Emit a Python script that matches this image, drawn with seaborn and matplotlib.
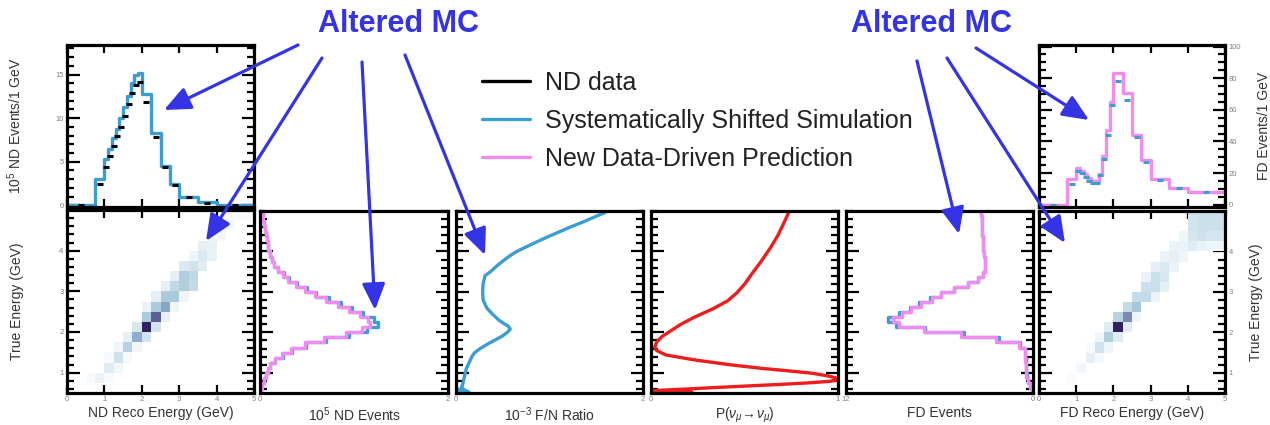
import matplotlib
matplotlib.use("Agg")
import matplotlib.pyplot as plt
from matplotlib.colors import LinearSegmentedColormap
from matplotlib.patches import FancyArrowPatch
from matplotlib.lines import Line2D
from matplotlib.ticker import FixedLocator, MultipleLocator, NullLocator
import seaborn as sns

# ---------------------------------------------------------------- data
# Reconstructed-energy binning of the 1D spectra (GeV)
reco_edges = [0.0, 0.75, 1.0, 1.1, 1.2, 1.3, 1.4, 1.5, 1.6, 1.7, 1.8, 1.9, 2.0,
              2.25, 2.5, 2.75, 3.0, 3.5, 4.0, 5.0]
nd_reco_sim = [0.0, 3.0, 5.3, 6.5, 7.7, 8.8, 10.0, 11.3, 12.6, 14.0, 14.9, 15.2,
               12.8, 8.3, 4.5, 2.4, 1.0, 0.35, 0.05]
nd_reco_data = [0.0, 2.4, 4.4, 5.6, 6.8, 7.9, 9.0, 10.3, 11.6, 12.9, 13.8, 14.1,
                11.8, 7.8, 4.4, 2.3, 0.95, 0.3, 0.05]
fd_reco_pred = [0.0, 16.5, 23.2, 21.5, 19.5, 17.0, 14.7, 14.7, 19.3, 30.5, 47.0, 65.0,
                83.0, 70.5, 44.0, 28.5, 16.0, 10.5, 8.0]
fd_reco_sim = [0.0, 13.3, 21.5, 20.0, 17.5, 15.0, 14.0, 14.0, 18.5, 29.0, 44.0, 63.0,
               78.0, 66.5, 43.0, 27.0, 15.5, 10.5, 8.0]

# True-energy binning of the rotated spectra (GeV)
true_edges = [0.5, 0.625, 0.75, 0.875, 1.0, 1.125, 1.25, 1.375, 1.5, 1.625, 1.75,
              1.875, 2.0, 2.125, 2.25, 2.375, 2.5, 2.625, 2.75, 2.875, 3.0, 3.125,
              3.25, 3.375, 3.5, 3.625, 3.75, 3.875, 4.0, 4.125, 4.25, 4.375, 4.5,
              4.625, 4.75, 4.875, 5.0]
nd_true_pred = [0.01, 0.025, 0.04, 0.06, 0.08, 0.11, 0.16, 0.23, 0.33, 0.48, 0.68,
                0.92, 1.08, 1.17, 1.15, 1.06, 0.95, 0.83, 0.70, 0.58, 0.48, 0.38,
                0.30, 0.24, 0.19, 0.15, 0.13, 0.11, 0.09, 0.08, 0.07, 0.06, 0.05,
                0.04, 0.035, 0.03]
nd_true_sim = [0.01, 0.025, 0.04, 0.06, 0.08, 0.11, 0.16, 0.24, 0.34, 0.49, 0.70,
               0.95, 1.14, 1.25, 1.21, 1.10, 0.98, 0.86, 0.73, 0.60, 0.50, 0.39,
               0.31, 0.25, 0.19, 0.15, 0.13, 0.11, 0.09, 0.08, 0.07, 0.06, 0.05,
               0.04, 0.035, 0.03]
fd_true_pred = [0.05, 0.18, 0.30, 0.42, 0.45, 0.45, 0.50, 0.50, 0.50, 0.90, 2.4,
                4.6, 7.0, 8.6, 9.0, 8.4, 7.8, 7.2, 6.5, 5.9, 5.1, 4.2, 3.5, 3.2,
                3.1, 3.1, 3.1, 3.15, 3.2, 3.2, 3.2, 3.25, 3.3, 3.3, 3.3, 3.35]
fd_true_sim = [0.05, 0.18, 0.30, 0.40, 0.42, 0.45, 0.48, 0.50, 0.50, 0.85, 2.2,
               4.4, 6.9, 8.8, 9.3, 8.6, 7.9, 7.3, 6.6, 5.9, 5.1, 4.2, 3.5, 3.2,
               3.1, 3.1, 3.1, 3.15, 3.2, 3.2, 3.2, 3.25, 3.3, 3.3, 3.3, 3.35]

# Far/near ratio (1e-3) versus true energy
fn_energy = [0.5, 0.52, 0.54, 0.56, 0.58, 0.6, 0.65, 0.7, 0.8, 0.9, 1.0, 1.1, 1.2,
             1.3, 1.4, 1.5, 1.6, 1.7, 1.8, 1.9, 2.0, 2.08, 2.15, 2.22, 2.3, 2.45,
             2.6, 2.8, 3.0, 3.2, 3.4, 3.5, 3.65, 3.76, 3.9, 4.0, 4.2, 4.35, 4.49,
             4.6, 4.73, 4.85, 4.97]
fn_ratio = [0.02, 0.14, 0.01, 0.11, 0.03, 0.08, 0.06, 0.07, 0.08, 0.09, 0.10, 0.11,
            0.13, 0.15, 0.17, 0.20, 0.26, 0.33, 0.41, 0.49, 0.55, 0.58, 0.56, 0.51,
            0.46, 0.39, 0.33, 0.29, 0.285, 0.29, 0.31, 0.37, 0.44, 0.50, 0.58, 0.65,
            0.83, 0.97, 1.11, 1.22, 1.36, 1.48, 1.60]

# Muon-neutrino survival probability versus true energy
p_energy = [0.5, 0.505, 0.51, 0.515, 0.52, 0.525, 0.53, 0.54, 0.55, 0.57, 0.6,
            0.63, 0.67, 0.71, 0.75, 0.79, 0.83, 0.87, 0.92, 0.99, 1.05, 1.11, 1.2,
            1.32, 1.44, 1.55, 1.64, 1.76, 1.9, 2.05, 2.2, 2.37, 2.58, 2.78, 2.98,
            3.19, 3.45, 3.76, 4.1, 4.41, 4.7, 5.0]
p_survival = [0.0, 0.2, 0.02, 0.22, 0.05, 0.18, 0.0, 0.16, 0.0, 0.06, 0.2, 0.32,
              0.5, 0.68, 0.84, 0.96, 0.995, 0.99, 0.95, 0.86, 0.73, 0.59, 0.42,
              0.23, 0.08, 0.03, 0.02, 0.03, 0.06, 0.11, 0.16, 0.23, 0.33, 0.41,
              0.46, 0.50, 0.54, 0.59, 0.64, 0.68, 0.71, 0.74]

# Reco vs true energy migration (relative cell content, 0.25 GeV cells)
grid_reco_edges = [0.0, 0.25, 0.5, 0.75, 1.0, 1.25, 1.5, 1.75, 2.0, 2.25, 2.5, 2.75,
                   3.0, 3.25, 3.5, 3.75, 4.0, 4.25, 4.5, 4.75, 5.0]
grid_true_edges = [0.5, 0.75, 1.0, 1.25, 1.5, 1.75, 2.0, 2.25, 2.5, 2.75, 3.0, 3.25,
                   3.5, 3.75, 4.0, 4.25, 4.5, 4.75, 5.0]
nd2d_reco = [0.875, 1.125, 1.125, 1.375, 1.375, 1.625, 1.625, 1.625, 1.875, 1.875,
             1.875, 2.125, 2.125, 2.125, 2.125, 2.375, 2.375, 2.375, 2.375, 2.625,
             2.625, 2.625, 2.625, 2.875, 2.875, 2.875, 2.875, 3.125, 3.125, 3.125,
             3.125, 3.375, 3.375, 3.375, 3.375, 3.625, 3.625, 3.625, 3.875, 3.875,
             3.875, 4.125, 4.125, 4.375, 4.375, 4.625, 4.875, 0.625, 1.125, 1.375]
nd2d_true = [0.875, 1.125, 1.375, 1.375, 1.625, 1.625, 1.875, 1.375, 1.875, 2.125,
             1.625, 2.125, 2.375, 1.875, 2.625, 2.375, 2.625, 2.125, 2.875, 2.625,
             2.875, 2.375, 3.125, 2.875, 3.125, 3.375, 2.625, 3.125, 3.375, 3.625,
             2.875, 3.375, 3.125, 3.625, 3.875, 3.625, 3.875, 4.125, 3.875, 4.125,
             4.375, 4.375, 4.625, 4.625, 4.875, 4.875, 4.875, 0.875, 0.875, 1.125]
nd2d_weight = [0.06, 0.10, 0.03, 0.16, 0.05, 0.26, 0.08, 0.03, 0.42, 0.14, 0.05,
               0.95, 0.30, 0.15, 0.06, 0.70, 0.30, 0.15, 0.08, 0.45, 0.30, 0.08,
               0.08, 0.30, 0.22, 0.08, 0.05, 0.28, 0.28, 0.12, 0.05, 0.22, 0.20,
               0.15, 0.05, 0.10, 0.12, 0.08, 0.07, 0.07, 0.05, 0.04, 0.04, 0.03,
               0.03, 0.02, 0.02, 0.02, 0.03, 0.04]
fd2d_reco = [0.875, 1.125, 1.375, 1.625, 1.625, 1.875, 1.875, 1.875, 2.125, 2.125,
             2.125, 2.375, 2.375, 2.375, 2.625, 2.625, 2.625, 2.875, 2.875, 2.875,
             3.125, 3.125, 3.125, 3.125, 3.375, 3.375, 3.375, 3.375, 3.625, 3.625,
             3.625, 3.875, 3.875, 3.875, 4.125, 4.125, 4.125, 4.125, 4.375, 4.375,
             4.375, 4.375, 4.625, 4.625, 4.625, 4.625, 4.875, 4.875, 4.875, 4.875,
             1.375, 1.625]
fd2d_true = [0.875, 1.125, 1.375, 1.625, 1.875, 1.875, 2.125, 1.625, 2.125, 2.375,
             1.875, 2.375, 2.625, 2.125, 2.625, 2.875, 2.375, 2.875, 3.125, 3.375,
             3.125, 3.375, 3.625, 2.875, 3.375, 3.625, 3.875, 3.125, 3.625, 3.875,
             4.125, 3.875, 4.125, 4.375, 4.125, 4.375, 4.625, 4.875, 4.125, 4.375,
             4.625, 4.875, 4.125, 4.375, 4.625, 4.875, 4.125, 4.375, 4.625, 4.875,
             1.625, 1.375]
fd2d_weight = [0.02, 0.04, 0.08, 0.15, 0.05, 0.28, 0.10, 0.05, 0.95, 0.25, 0.10,
               0.55, 0.20, 0.10, 0.32, 0.20, 0.05, 0.20, 0.17, 0.06, 0.18, 0.18,
               0.08, 0.06, 0.13, 0.12, 0.06, 0.08, 0.06, 0.08, 0.06, 0.05, 0.06,
               0.05, 0.10, 0.14, 0.15, 0.15, 0.07, 0.16, 0.17, 0.17, 0.05, 0.14,
               0.17, 0.17, 0.05, 0.14, 0.17, 0.17, 0.03, 0.03]

legend_labels = ["ND data", "Systematically Shifted Simulation",
                 "New Data-Driven Prediction"]

# ---------------------------------------------------------------- style
sns.set_style("white")
plt.rcParams["font.family"] = ["Liberation Sans", "DejaVu Sans"]
plt.rcParams["mathtext.fontset"] = "custom"
plt.rcParams["mathtext.rm"] = "Liberation Sans"
plt.rcParams["mathtext.it"] = "Liberation Sans:italic"
plt.rcParams["mathtext.bf"] = "Liberation Sans:bold"
plt.rcParams.update({
    "xtick.direction": "in", "ytick.direction": "in",
    "xtick.bottom": True, "xtick.top": True,
    "ytick.left": True, "ytick.right": True,
    "xtick.color": "black", "ytick.color": "black",
    "xtick.major.size": 9, "ytick.major.size": 9,
    "xtick.minor.size": 5, "ytick.minor.size": 5,
    "xtick.major.width": 1.6, "ytick.major.width": 1.6,
    "xtick.minor.width": 1.6, "ytick.minor.width": 1.6,
    "xtick.labelsize": 5.5, "ytick.labelsize": 5.5,
    "xtick.labelcolor": "#808080", "ytick.labelcolor": "#808080",
    "xtick.major.pad": 2.5, "ytick.major.pad": 2.5,
})

BLUE = "#3b9dd2"
PINK = "#f08cf0"
RED = "#ee1c1c"
ANNOT = "#3434e6"
LABEL = "#333333"
cmap = LinearSegmentedColormap.from_list(
    "migration", [(0.0, "#ffffff"), (0.08, "#e4eff5"), (0.3, "#a9cbdc"),
                  (0.5, "#8299c0"), (0.75, "#54508e"), (1.0, "#2a1656")])

W, H = 1270, 425
fig = plt.figure(figsize=(W / 100, H / 100), dpi=100)


def box(x0, y0, x1, y1):
    return [x0 / W, 1 - y1 / H, (x1 - x0) / W, (y1 - y0) / H]


ax_ndh = fig.add_axes(box(67, 45, 254, 207))
ax_nd2 = fig.add_axes(box(67, 210, 254, 393))
ax_nde = fig.add_axes(box(260, 211, 448, 393))
ax_fn = fig.add_axes(box(456, 211, 643, 393))
ax_p = fig.add_axes(box(651, 211, 838, 393))
ax_fde = fig.add_axes(box(846, 211, 1033, 393))
ax_fd2 = fig.add_axes(box(1039, 211, 1225, 393))
ax_fdh = fig.add_axes(box(1039, 45, 1225, 207))


def centers(edges):
    return [(a + b) / 2 for a, b in zip(edges[:-1], edges[1:])]


reco_c = centers(reco_edges)
true_c = centers(true_edges)
LW = 2.4

# ---------------------------------------------------------------- spectra
sns.histplot(x=reco_c, weights=nd_reco_sim, bins=reco_edges, element="step",
             fill=False, color=BLUE, linewidth=LW, ax=ax_ndh)
sns.scatterplot(x=reco_c, y=nd_reco_data, marker="_", s=18, linewidth=2.2,
                color="black", ax=ax_ndh, zorder=3, legend=False)

sns.histplot(x=reco_c, weights=fd_reco_pred, bins=reco_edges, element="step",
             fill=False, color=PINK, linewidth=LW, ax=ax_fdh)
sns.scatterplot(x=reco_c, y=fd_reco_sim, marker="_", s=14, linewidth=2.2,
                color=BLUE, ax=ax_fdh, zorder=3, legend=False)

sns.histplot(x=nd2d_reco, y=nd2d_true, weights=nd2d_weight,
             bins=[grid_reco_edges, grid_true_edges], cmap=cmap, vmin=0, vmax=1,
             ax=ax_nd2)
sns.histplot(x=fd2d_reco, y=fd2d_true, weights=fd2d_weight,
             bins=[grid_reco_edges, grid_true_edges], cmap=cmap, vmin=0, vmax=1,
             ax=ax_fd2)

sns.histplot(y=true_c, weights=nd_true_sim, bins=true_edges, element="step",
             fill=False, color=BLUE, linewidth=LW, ax=ax_nde)
sns.histplot(y=true_c, weights=nd_true_pred, bins=true_edges, element="step",
             fill=False, color=PINK, linewidth=LW, ax=ax_nde)

sns.lineplot(x=fn_ratio, y=fn_energy, sort=False, estimator=None, color=BLUE,
             linewidth=LW, ax=ax_fn)
sns.lineplot(x=p_survival, y=p_energy, sort=False, estimator=None, color=RED,
             linewidth=LW, ax=ax_p)

sns.histplot(y=true_c, weights=fd_true_sim, bins=true_edges, element="step",
             fill=False, color=BLUE, linewidth=LW, ax=ax_fde)
sns.histplot(y=true_c, weights=fd_true_pred, bins=true_edges, element="step",
             fill=False, color=PINK, linewidth=LW, ax=ax_fde)


# ---------------------------------------------------------------- frames
def root_frame(ax):
    for sp in ax.spines.values():
        sp.set_visible(True)
        sp.set_linewidth(2.3)
        sp.set_color("black")
        sp.set_zorder(5)
    ax.set_xlabel("")
    ax.set_ylabel("")


for ax in fig.axes:
    root_frame(ax)

# panels with true energy on the vertical axis
for ax in (ax_nd2, ax_nde, ax_fn, ax_p, ax_fde, ax_fd2):
    ax.set_ylim(0.5, 5.0)
    ax.yaxis.set_major_locator(FixedLocator([1, 2, 3, 4]))
    ax.yaxis.set_minor_locator(MultipleLocator(0.2))
    ax.tick_params(axis="y", which="major", length=9, width=1.6, left=True,
                   right=True, labelleft=False, labelright=False)
    ax.tick_params(axis="y", which="minor", length=5, width=1.6, left=True,
                   right=True)
    ax.xaxis.set_minor_locator(NullLocator())
    ax.tick_params(axis="x", which="major", length=0)

for ax in (ax_nd2, ax_fd2, ax_ndh, ax_fdh):
    ax.set_xlim(0, 5)
    ax.xaxis.set_major_locator(FixedLocator([0, 1, 2, 3, 4, 5]))
    ax.xaxis.set_minor_locator(NullLocator())
    ax.tick_params(axis="x", which="major", length=6, width=1.6, bottom=True,
                   top=True)

ax_nd2.tick_params(axis="y", labelleft=True)
ax_fd2.tick_params(axis="y", labelright=True)
ax_ndh.tick_params(axis="x", labelbottom=False)
ax_fdh.tick_params(axis="x", labelbottom=False)

ax_nde.set_xlim(0, 2)
ax_nde.set_xticks([0, 2], ["0", "2"])
ax_fn.set_xlim(0, 2)
ax_fn.set_xticks([0, 2], ["0", "2"])
ax_p.set_xlim(0, 1)
ax_p.set_xticks([0, 1], ["0", "1"])
ax_fde.set_xlim(12, 0)
ax_fde.set_xticks([12, 0], ["12", "0"])

ax_ndh.set_ylim(-0.2, 18.4)
ax_ndh.yaxis.set_major_locator(FixedLocator([0, 5, 10, 15]))
ax_ndh.yaxis.set_minor_locator(MultipleLocator(1))
ax_ndh.tick_params(axis="y", which="major", length=9, width=1.6, left=True,
                   right=True, labelleft=True, labelright=False)
ax_ndh.tick_params(axis="y", which="minor", length=5, width=1.6, left=True,
                   right=True)

ax_fdh.set_ylim(-1.5, 101)
ax_fdh.yaxis.set_major_locator(FixedLocator([0, 20, 40, 60, 80, 100]))
ax_fdh.yaxis.set_minor_locator(MultipleLocator(5))
ax_fdh.tick_params(axis="y", which="major", length=9, width=1.6, left=True,
                   right=True, labelleft=False, labelright=True)
ax_fdh.tick_params(axis="y", which="minor", length=5, width=1.6, left=True,
                   right=True)

# ---------------------------------------------------------------- labels
lab = dict(fontsize=10, color=LABEL)
xlab_y = -0.07
for ax, text in ((ax_nd2, "ND Reco Energy (GeV)"),
                 (ax_nde, r"10$^5$ ND Events"),
                 (ax_fn, r"10$^{-3}$ F/N Ratio"),
                 (ax_p, r"P($\nu_{\mu}\!\rightarrow\!\nu_{\mu}$)"),
                 (ax_fde, "FD Events"),
                 (ax_fd2, "FD Reco Energy (GeV)")):
    ax.set_xlabel(text, **lab)
    ax.xaxis.set_label_coords(0.5, xlab_y)

ax_ndh.set_ylabel(r"10$^5$ ND Events/1 GeV", **lab)
ax_ndh.yaxis.set_label_coords(-0.23, 0.5)
ax_nd2.set_ylabel("True Energy (GeV)", **lab)
ax_nd2.yaxis.set_label_coords(-0.23, 0.5)
ax_fd2.yaxis.set_label_position("right")
ax_fd2.set_ylabel("True Energy (GeV)", rotation=90, **lab)
ax_fd2.yaxis.set_label_coords(1.13, 0.5)
ax_fdh.yaxis.set_label_position("right")
ax_fdh.set_ylabel("FD Events/1 GeV", rotation=90, **lab)
ax_fdh.yaxis.set_label_coords(1.17, 0.5)

# ---------------------------------------------------------------- legend
handles = [Line2D([], [], color="black", linewidth=LW),
           Line2D([], [], color=BLUE, linewidth=LW),
           Line2D([], [], color=PINK, linewidth=LW)]
fig.legend(handles, legend_labels, loc="upper left",
           bbox_to_anchor=(482 / W, 1 - 71 / H), frameon=False, fontsize=18,
           handlelength=1.92, handletextpad=0.6, labelspacing=0.55,
           borderpad=0, borderaxespad=0, labelcolor="#222222")

# ---------------------------------------------------------------- annotations
def fig_arrow(p0, p1):
    fig.add_artist(FancyArrowPatch(
        (p0[0] / W, 1 - p0[1] / H), (p1[0] / W, 1 - p1[1] / H),
        transform=fig.transFigure,
        arrowstyle="-|>,head_length=1.6,head_width=0.7", mutation_scale=10,
        linewidth=2.3, color=ANNOT, shrinkA=0, shrinkB=0, zorder=10))


fig.text(398 / W, 1 - 24 / H, "Altered MC", ha="center", va="center",
         fontsize=22, fontweight="bold", color=ANNOT)
fig.text(931 / W, 1 - 24 / H, "Altered MC", ha="center", va="center",
         fontsize=22, fontweight="bold", color=ANNOT)

for start, end in (((298, 45), (164, 110)), ((322, 58), (206, 241)),
                   ((362, 62), (375, 310)), ((405, 55), (485, 255)),
                   ((976, 48), (1089, 120)), ((917, 61), (959, 234)),
                   ((947, 58), (1065, 243))):
    fig_arrow(start, end)

fig.savefig("out.png", dpi=100)
